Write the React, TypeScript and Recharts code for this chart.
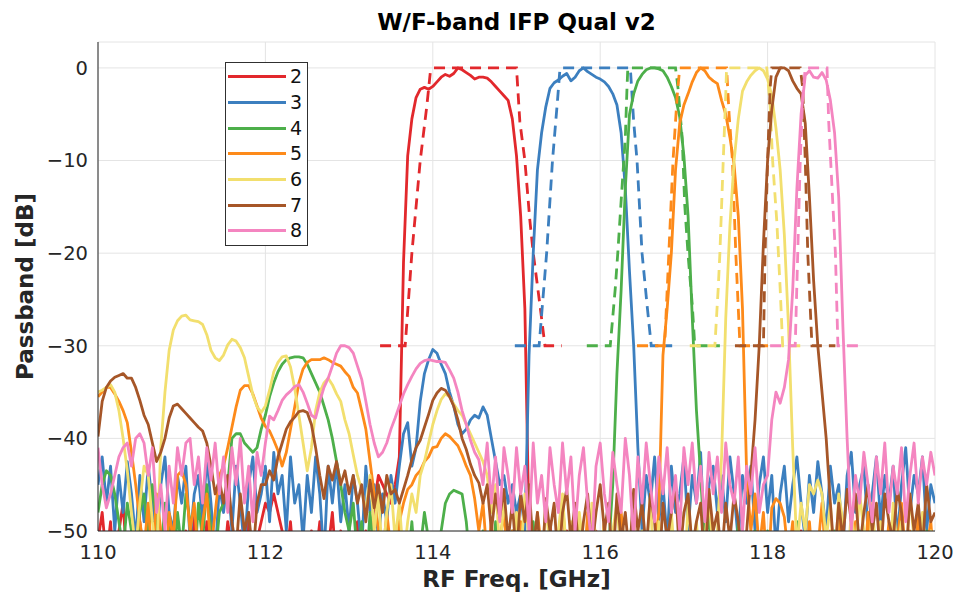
import { LineChart, Line, XAxis, YAxis, CartesianGrid, Legend, Label } from "recharts";

// sampling grid of the measured passbands, 110 .. 120 GHz in 50 MHz steps
const freqGHz = Array.from({ length: 201 }, (_, i) => Math.round((110 + i * 0.05) * 100) / 100);

const xTicks = [110, 112, 114, 116, 118, 120];
const yTicks = [-50, -40, -30, -20, -10, 0];

const channelNames = ["2", "3", "4", "5", "6", "7", "8"];
const channelColors = ["#e2282c", "#3c7fbf", "#4daf4a", "#fd8a1a", "#f2df6e", "#a65628", "#f485c0"];

// measured passband [dB], one value per freqGHz sample
const meas2 = [
  -51, -48, -53, -49, -56, -50, -47, -54, -51, -57,
  -49, -53, -48, -55, -50, -52, -56, -49, -53, -51,
  -55, -50, -57, -48, -52, -55, -49, -54, -58, -51,
  -54, -49, -52, -56, -50, -53, -48, -55, -51, -49,
  -47, -48, -46, -48, -50, -53, -49, -55, -51, -52,
  -56, -50, -53, -49, -55, -52, -48, -54, -50, -56,
  -51, -53, -49, -55, -50, -52, -47, -44, -45, -46,
  -47, -45, -42, -21, -9.5, -5.5, -3.2, -2.3, -2.1, -2.3,
  -2.0, -1.5, -1.0, -0.7, -0.9, -0.6, 0, -0.2, -0.5, -0.8,
  -1.2, -1.0, -1.0, -1.1, -1.5, -2.0, -2.5, -3.0, -3.5, -5.5,
  -9.5, -16, -26, -50, -55, -51, -57, -53, -49, -56,
  -52, -58, -50, -54, -57, -51, -55, -59, -52, -50,
  -56, -53, -58, -51, -55, -60, -52, -54, -57, -50,
  -55, -52, -58, -53, -49, -56, -54, -59, -51, -55,
  -57, -52, -55, -60, -53, -50, -56, -54, -58, -52,
  -55, -51, -57, -53, -59, -52, -56, -50, -54, -58,
  -53, -57, -51, -55, -59, -52, -56, -54, -50, -57,
  -53, -58, -52, -55, -51, -57, -54, -59, -52, -56,
  -50, -55, -53, -58, -51, -56, -54, -52, -57, -53,
  -55, -51, -58, -54, -52, -56, -50, -55, -53, -57,
  -52,
];
const meas3 = [
  -45, -42, -47, -43, -50, -44, -48, -42.5, -46, -51,
  -44, -49, -43, -47, -52, -45, -42, -48, -50, -44,
  -47, -43, -51, -46, -44, -49, -42, -47, -53, -45,
  -48, -44, -50, -43, -47, -52, -45, -42, -48, -46,
  -43, -49, -41.5, -46, -44, -50, -42, -47, -45, -51,
  -44, -48, -42, -46, -53, -43, -47, -42.5, -49, -45,
  -50, -44, -47, -52, -43, -48, -45, -51, -46, -49,
  -44, -47, -43, -39.5, -38.3, -43, -41, -36, -33, -31.5,
  -30.4, -30.8, -32, -33, -35, -36.5, -38.5, -39.5, -39, -38,
  -37.5, -37.8, -36.6, -37.5, -40, -42.5, -45, -44, -47, -45,
  -48, -46, -50, -31, -20, -11, -7, -4.2, -2.2, -1.6,
  -1.3, -0.9, -0.6, -1.4, -1.0, -0.3, 0, -0.4, -0.7, -1.0,
  -1.2, -1.5, -2.0, -2.8, -4.0, -7, -13, -22, -30, -41,
  -50, -44, -47, -42, -49, -45, -51, -43, -48, -46,
  -42, -50, -44, -47, -41.5, -52, -45, -43, -48, -44,
  -49, -42, -46, -51, -44, -47, -43, -50, -45, -42,
  -48, -44, -52, -46, -43, -49, -45, -42, -47, -51,
  -44, -48, -42.5, -46, -50, -43, -47, -45, -52, -44,
  -41.5, -48, -45, -43, -50, -46, -42, -49, -44, -47,
  -43, -51, -45, -41, -48, -44, -46, -42, -50, -45,
  -47,
];
const meas4 = [
  -48, -45, -43.5, -44, -46, -49, -52, -47, -50, -54,
  -48, -46, -51, -45, -49, -53, -47, -50, -55, -48,
  -52, -46, -49, -54, -47, -51, -45, -50, -53, -48,
  -47, -45, -40, -39.5, -39.5, -40.5, -41, -41.5, -41, -39,
  -37.5, -35.5, -34, -32.8, -32, -31.5, -31.3, -31.2, -31.2, -31.3,
  -32, -33, -34, -35, -36.5, -38, -40, -42.5, -45, -48,
  -50, -47, -53, -49, -55, -48, -52, -50, -54, -49,
  -53, -50, -56, -51, -54, -49, -55, -52, -48, -51,
  -52, -55, -50, -47, -46, -45.6, -45.8, -46, -49, -54,
  -51, -56, -50, -53, -57, -49, -54, -52, -58, -50,
  -55, -51, -57, -53, -49, -56, -52, -58, -50, -54,
  -57, -51, -55, -53, -59, -50, -56, -52, -54, -58,
  -51, -55, -52, -45, -33, -24, -13, -5, -2.8, -1.4,
  -0.7, -0.2, 0, 0, -0.1, -0.3, -1.0, -2.0, -3.2, -5.3,
  -9.5, -16, -27, -37, -44, -52, -48, -55, -50, -53,
  -57, -51, -54, -49, -56, -52, -58, -50, -55, -53,
  -50, -56, -52, -58, -51, -54, -57, -49, -55, -53,
  -58, -51, -56, -52, -54, -59, -50, -55, -53, -57,
  -52, -56, -50, -54, -58, -51, -55, -53, -57, -50,
  -54, -58, -52, -55, -51, -57, -53, -56, -50, -54,
  -52,
];
const meas5 = [
  -35.5, -35, -34.5, -34.5, -35.2, -36, -37, -38.3, -41.5, -45,
  -49, -52, -47, -54, -46, -50, -55, -48, -51, -44,
  -43.5, -45, -50, -47, -53, -49, -46, -52, -48, -44,
  -43, -41, -38.8, -36.6, -34.8, -34.3, -34.3, -35.2, -36.5, -37.8,
  -38.7, -39.2, -40.2, -41.3, -43, -41.5, -39, -36.6, -34, -32.5,
  -31.8, -31.5, -31.5, -31.5, -31.3, -31.5, -31.8, -32, -32.2, -32.8,
  -33.3, -34.5, -35.1, -37, -39, -42.5, -46, -50, -53, -48,
  -52, -55, -49, -47, -45.5, -45, -44, -43.5, -42.5, -42,
  -41, -40.9, -40, -39.5, -39.8, -40.3, -40.8, -41.8, -43, -44,
  -46.5, -50, -47, -53, -49, -55, -51, -48, -54, -50,
  -56, -49, -53, -51, -57, -48, -52, -55, -50, -54,
  -51, -47, -53, -56, -49, -52, -55, -48, -54, -51,
  -53, -49, -56, -51, -54, -48, -52, -57, -50, -55,
  -51, -54, -58, -52, -48, -31, -26, -20, -11, -6,
  -4, -2.8, -1.5, -0.5, 0, -0.3, -1.0, -1.4, -1.7, -3.5,
  -5, -7.5, -10.5, -16, -26, -44, -50, -46, -52, -48,
  -55, -47.5, -46.5, -47, -48.5, -53, -49, -56, -51, -54,
  -49, -55, -52, -47, -54, -50, -57, -48, -53, -51,
  -56, -49, -52, -55, -48, -53, -57, -50, -54, -49,
  -55, -51, -47, -53, -50, -56, -48, -54, -52, -49,
  -55,
];
const meas6 = [
  -35, -34.8, -34.5, -34.2, -35, -37, -40, -43.5, -48, -52,
  -47, -43, -44, -49, -53, -41, -35, -30.5, -28.3, -27.3,
  -26.8, -26.7, -27.2, -27.3, -27.4, -27.7, -28.8, -30.5, -31.3, -31.6,
  -31, -29.9, -29.3, -29.5, -30.2, -31.3, -33.3, -35.3, -36.6, -37.2,
  -36.5, -34.8, -32.8, -31.8, -31.2, -31.1, -32.3, -34.6, -37.5, -40.5,
  -43.5, -41, -37, -35, -34, -33.5, -34.2, -35.2, -36, -38,
  -39.5, -41.8, -44, -45.5, -48, -44, -50, -46, -53, -48,
  -45, -51, -47, -53, -49, -46, -48, -44, -42.5, -40.5,
  -38.5, -37, -35.8, -35.2, -35.5, -36.3, -37, -37.5, -38.5, -39.5,
  -40.5, -41.5, -42.5, -44, -48, -45, -52, -47, -50, -55,
  -48, -53, -46, -51, -56, -49, -54, -47, -52, -57,
  -50, -46, -53, -49, -55, -48, -52, -58, -47, -51,
  -54, -49, -56, -50, -47, -53, -58, -51, -48, -55,
  -50, -53, -46, -57, -49, -52, -55, -48, -54, -50,
  -56, -47, -52, -49, -55, -51, -46, -53, -50, -42,
  -27, -17, -10, -5.5, -2.5, -1.5, -0.8, -0.3, 0, -0.3,
  -1.2, -3, -6.5, -11, -18, -28, -41, -52, -47, -50,
  -45, -46, -44.5, -46, -51, -47, -55, -46, -49, -54,
  -48, -52, -46, -50, -55, -47, -53, -49, -51, -56,
  -47, -52, -49, -54, -46, -51, -55, -48, -53, -50,
  -52,
];
const meas7 = [
  -39.8, -36, -34.5, -33.8, -33.4, -33.2, -33, -33.5, -33.5, -34.5,
  -35.9, -37.5, -38.5, -40.5, -42.5, -41.5, -40, -37.8, -36.5, -36.3,
  -36.8, -37.3, -37.8, -38.3, -38.8, -39.2, -40.5, -43, -46, -44.5,
  -47, -44, -49, -52, -46, -50, -48, -53, -47, -45,
  -45, -43.5, -44.5, -42, -40.5, -39, -38.2, -37.7, -37.1, -37,
  -37.2, -38.5, -41, -44, -46.5, -43, -44.5, -42.5, -45, -43.5,
  -46, -44, -47, -45, -49, -44.5, -47.5, -45, -48, -44,
  -46, -45.5, -47, -45.5, -44, -42.3, -41, -40.2, -38.8, -37.4,
  -35.9, -35.1, -34.6, -34.8, -35.5, -36.5, -38, -40, -41.2, -42.8,
  -44, -44.8, -47, -45, -50, -46, -48.5, -45.5, -51, -47,
  -53, -46, -49, -45, -52, -48, -55, -46.5, -50, -47,
  -54, -48, -45.5, -51, -47, -53, -49, -46, -52, -48,
  -45, -50, -47, -54, -46, -51, -48, -53, -45.5, -50,
  -47, -52, -46, -49, -55, -47, -51, -48, -45, -53,
  -48, -46, -52, -49, -47, -54, -45.5, -50, -48, -53,
  -47, -51, -46, -49, -54, -50, -44, -38, -30, -19,
  -10, -4.5, -1, 0, 0, -0.3, -1.4, -2.2, -2.8, -6,
  -14, -23, -30, -35, -40, -47, -53, -47, -51, -45.5,
  -49, -46, -52, -48, -45, -50, -47, -53, -46, -49,
  -51, -45.5, -48, -54, -46, -50, -47, -52, -45, -49,
  -48,
];
const meas8 = [
  -41, -45, -47.5, -46, -44, -42, -41, -40.5, -43, -40,
  -39.5, -40.5, -44, -41, -48, -45, -50, -43, -47, -41,
  -44, -40.5, -40, -45, -42, -47, -41, -44.5, -40.5, -46,
  -42, -48, -41, -45, -40, -47, -43, -49, -41.5, -44,
  -40.5, -37.6, -38, -37, -35.9, -35.3, -34.9, -34.4, -34.2, -35,
  -36.2, -37.5, -37.8, -36, -34.5, -33.5, -32.2, -30.8, -30, -30,
  -30.2, -30.8, -32.2, -33.6, -36, -38.5, -40.5, -42, -41.5, -40.5,
  -39, -37.8, -36.5, -35.2, -34.2, -33.3, -32.5, -31.9, -31.6, -31.5,
  -31.6, -31.7, -31.7, -31.8, -32.6, -33.5, -35, -37, -38.5, -40.2,
  -41.5, -42.3, -45, -40.5, -47, -42, -49, -41, -44, -48,
  -41, -46, -43, -50, -40.5, -47, -44, -49, -41, -45,
  -48, -40.5, -46, -42, -50, -44, -41, -47, -52, -43,
  -40.5, -46, -49, -41.5, -45, -48, -40, -44, -51, -42,
  -47, -40.5, -45, -49, -42, -46, -41, -48, -44, -50,
  -41, -45, -40.5, -47, -43, -49, -41.5, -46, -42, -48,
  -40.5, -45, -47, -42, -50, -43, -46, -41, -48, -45,
  -44, -38, -35, -36.2, -34.5, -31.5, -24, -13, -5, -0.8,
  -0.3, -1.0, -1.1, -0.5, -1.3, -3.5, -7, -14, -28, -40,
  -50, -44, -47, -41.5, -45, -49, -42, -46, -40.5, -48,
  -43, -46, -41, -49, -44, -40.5, -47, -42, -45, -41.5,
  -44,
];

// design passbands [GHz, dB], shown from -30 dB up
const design2 = [[113.37, -30], [113.67, -30], [113.75, -20], [113.85, -10], [113.93, -4], [113.97, -0.5], [114.0, 0], [115.0, 0], [115.04, -5.8], [115.1, -10], [115.16, -16.5], [115.2, -20], [115.28, -25.6], [115.34, -30], [115.54, -30]];
const design3 = [[114.98, -30], [115.27, -30], [115.36, -20], [115.43, -10], [115.49, -3.5], [115.52, 0], [116.36, 0], [116.4, -5.8], [116.44, -10], [116.5, -20], [116.56, -25.6], [116.61, -30], [116.86, -30]];
const design4 = [[115.84, -30], [116.12, -30], [116.18, -23.8], [116.21, -20], [116.26, -13], [116.3, -7.6], [116.32, -2.2], [116.33, 0], [116.9, 0], [116.93, -2.2], [116.98, -7.6], [117.01, -14.8], [117.05, -20.2], [117.1, -25.6], [117.13, -30], [117.43, -30]];
const design5 = [[116.44, -30], [116.77, -30], [116.82, -20], [116.87, -10], [116.92, -3], [116.95, 0], [117.51, 0], [117.54, -5], [117.58, -10], [117.62, -20], [117.67, -30], [118.03, -30]];
const design6 = [[117.07, -30], [117.37, -30], [117.41, -23.8], [117.43, -20], [117.47, -10], [117.5, -2.9], [117.51, 0], [117.99, 0], [118.03, -4], [118.06, -10], [118.11, -16.6], [118.15, -23.8], [118.18, -30], [118.39, -30]];
const design7 = [[117.61, -30], [117.95, -30], [117.97, -20], [118.0, -10], [118.03, -2.2], [118.05, 0], [118.39, 0], [118.42, -2.2], [118.45, -10], [118.48, -20], [118.53, -30], [118.81, -30]];
const design8 = [[118.03, -30], [118.33, -30], [118.36, -20], [118.39, -10], [118.42, -3], [118.45, 0], [118.71, 0], [118.73, -5.8], [118.78, -14.8], [118.81, -20], [118.84, -30], [119.1, -30]];

const measured = [meas2, meas3, meas4, meas5, meas6, meas7, meas8];
const designs = [design2, design3, design4, design5, design6, design7, design8];

const FONT = '"DejaVu Sans", Verdana, sans-serif';
const INK = "#262626";

function ChannelLegend() {
  return (
    <div
      style={{
        width: 81,
        height: 181,
        border: "1px solid #303030",
        background: "#fff",
        paddingTop: 1,
        boxSizing: "content-box",
        fontFamily: FONT,
      }}
    >
      {channelNames.map((name, k) => (
        <div key={name} style={{ display: "flex", alignItems: "center", height: 25.7 }}>
          <div style={{ width: 58, height: 3, marginLeft: 2, background: channelColors[k] }} />
          <span style={{ marginLeft: 4, fontSize: 19, lineHeight: 1, color: "#111" }}>{name}</span>
        </div>
      ))}
    </div>
  );
}

export default function App() {
  const series = measured.map((vals) => vals.map((v, i) => ({ f: freqGHz[i], v })));
  const designSeries = designs.map((pts) => pts.map(([f, v]) => ({ f, v })));

  return (
    <div style={{ position: "absolute", left: 0, top: 0, width: 959, height: 600, background: "#fff", fontFamily: FONT }}>
      <div
        style={{
          position: "absolute",
          left: 98,
          width: 837,
          top: 9,
          textAlign: "center",
          fontWeight: "bold",
          fontSize: 23,
          color: "#000",
        }}
      >
        W/F-band IFP Qual v2
      </div>
      <LineChart width={959} height={600} margin={{ top: 42, right: 24, left: 0, bottom: 0 }}>
        <CartesianGrid stroke="#e4e4e4" />
        <XAxis
          type="number"
          dataKey="f"
          domain={[110, 120]}
          ticks={xTicks}
          allowDataOverflow
          height={69}
          tickLine={false}
          tickSize={0}
          tickMargin={14}
          axisLine={{ stroke: INK }}
          tick={{ fill: INK, fontSize: 19.5, fontFamily: FONT }}
        >
          <Label
            value="RF Freq. [GHz]"
            position="insideBottom"
            offset={13}
            style={{ fontWeight: "bold", fontSize: 23, fill: INK, fontFamily: FONT }}
          />
        </XAxis>
        <YAxis
          type="number"
          domain={[-50, 2.8]}
          ticks={yTicks}
          allowDataOverflow
          width={98}
          tickLine={false}
          tickSize={0}
          tickMargin={10}
          axisLine={{ stroke: INK }}
          tickFormatter={(v) => (v < 0 ? "\u2212" + Math.abs(v) : String(v))}
          tick={{ fill: INK, fontSize: 19.5, fontFamily: FONT }}
        >
          <Label
            value="Passband [dB]"
            angle={-90}
            position="insideLeft"
            offset={25}
            style={{ textAnchor: "middle", fontWeight: "bold", fontSize: 23, fill: INK, fontFamily: FONT }}
          />
        </YAxis>
        <Legend
          layout="vertical"
          align="center"
          verticalAlign="middle"
          wrapperStyle={{ left: 225, top: 62, width: 83, height: 183 }}
          content={() => <ChannelLegend />}
        />
        {channelNames.flatMap((name, k) => [
          <Line
            key={"m" + name}
            data={series[k]}
            dataKey="v"
            name={name}
            type="linear"
            stroke={channelColors[k]}
            strokeWidth={2.8}
            strokeLinejoin="round"
            dot={false}
            activeDot={false}
            isAnimationActive={false}
          />,
          <Line
            key={"d" + name}
            data={designSeries[k]}
            dataKey="v"
            name={name + " design"}
            type="linear"
            stroke={channelColors[k]}
            strokeWidth={2.8}
            strokeDasharray="11 7"
            dot={false}
            activeDot={false}
            legendType="none"
            isAnimationActive={false}
          />,
        ])}
      </LineChart>
    </div>
  );
}
